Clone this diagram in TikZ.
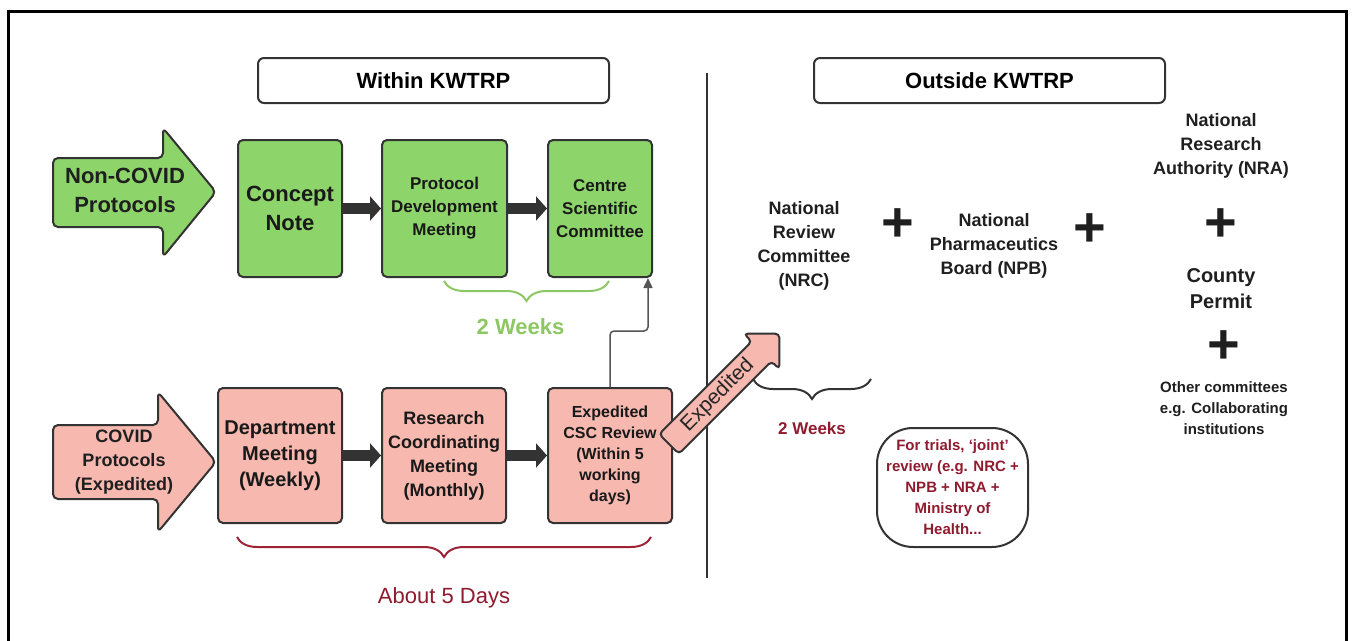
\documentclass[tikz,border=0pt]{standalone}
\usepackage{fontspec}
\setmainfont{Liberation Sans}
\usetikzlibrary{positioning,arrows.meta,calc,decorations.pathreplacing}
\definecolor{leaf300}{HTML}{8DD46A}
\definecolor{leaf400}{HTML}{8CC763}
\definecolor{rose200}{HTML}{F6B8AF}
\definecolor{wine700}{HTML}{8E1B2E}
\definecolor{wine600}{HTML}{9B2335}
\definecolor{ink800} {HTML}{333333}
\definecolor{grey600}{HTML}{555555}
\newcommand{\boxfont}[2]{\fontsize{#1}{#2}\selectfont\bfseries}
\tikzset{
  box/.style     ={draw=ink800, line width=2pt, fill=leaf300,
                   rounded corners=5pt, align=center, inner sep=2pt,
                   text=black!90},
  boxp/.style    ={box, fill=rose200},
  titlebox/.style={draw=ink800, line width=2pt, fill=white,
                   rounded corners=6pt, minimum width=351pt,
                   minimum height=45pt, font=\boxfont{22}{26}},
  blockar/.style ={draw=ink800, line width=2pt, rounded corners=5pt},
  lbl/.style     ={align=center, inner sep=2pt, text=black!88},
  plussign/.style={inner sep=0pt, text=black!88,
                   font=\fontsize{56}{56}\selectfont\bfseries},
  thar/.style    ={-{Triangle[length=11pt,width=24pt]}, draw=ink800,
                   line width=11pt},
  gar/.style     ={-{Triangle[length=10pt,width=9pt]}, draw=grey600,
                   line width=1.5pt, rounded corners=4pt},
  brc/.style     ={decorate, decoration={brace,amplitude=20pt,mirror},
                   line width=2pt}
}
\begin{document}
\begin{tikzpicture}[x=1pt, y=-1pt]
\useasboundingbox (0,0) rectangle (1352,640);
\draw[line width=3pt] (8,11) rectangle (1346,660);

% section headers
\node[titlebox] (win) at (433.5,80.5) {Within KWTRP};
\node[titlebox] (wout) at (989.5,80.5) {Outside KWTRP};
\draw[draw=ink800, line width=2pt] (707,73) -- (707,578);

% non-COVID route
\draw[blockar, fill=leaf300] (53,158) -- (163,158) -- (163,128) -- (216,192)
  -- (163,257) -- (163,227) -- (53,227) -- cycle;
\node[lbl, font=\boxfont{22}{29}] (ncp) at (125,190) {Non-COVID\\Protocols};
\node[box, minimum width=104pt, minimum height=137pt,
      font=\boxfont{22}{29}] (cn) at (290,208.5) {Concept\\Note};
\node[box, minimum width=125pt, minimum height=137pt, right=38pt of cn,
      font=\boxfont{17}{23}] (pdm) {Protocol\\Development\\Meeting};
\node[box, minimum width=104pt, minimum height=137pt, right=39pt of pdm,
      font=\boxfont{17}{23}] (csc) {Centre\\Scientific\\Committee};

% COVID route
\draw[blockar, fill=rose200] (53,425) -- (158,425) -- (158,392) -- (216,462)
  -- (158,532) -- (158,499) -- (53,499) -- cycle;
\node[lbl, font=\boxfont{18}{24}] (cvp) at (124,462)
  {COVID\\Protocols\\(Expedited)};
\node[boxp, minimum width=124pt, minimum height=135pt,
      font=\boxfont{20}{26}] (dm) at (280,455.5) {Department\\Meeting\\(Weekly)};
\node[boxp, minimum width=124pt, minimum height=135pt, right=38pt of dm,
      font=\boxfont{18}{24}] (rcm) {Research\\Coordinating\\Meeting\\(Monthly)};
\node[boxp, minimum width=124pt, minimum height=135pt, right=40pt of rcm,
      font=\boxfont{16}{21}] (exp)
  {Expedited\\CSC Review\\(Within 5\\working\\days)};

\foreach \x/\y in {cn/pdm,pdm/csc,dm/rcm,rcm/exp} \draw[thar] (\x) -- (\y);
\draw[gar] (exp.north) -- ++(0,-56) -| ($(csc.south east)+(-5,0)$);

\begin{scope}[shift={(669,444)}, rotate=45]
  \draw[blockar, fill=rose200, rounded corners=4pt] (0,-14) -- (131,-14)
    -- (131,-25) -- (156,0) -- (131,25) -- (131,14) -- (0,14) -- cycle;
  \node[rotate=45, inner sep=0pt, text=black!85,
        font=\fontsize{21}{21}\selectfont] (xpd) at (69,0) {Expedited};
\end{scope}

% durations
\draw[brc, draw=leaf400] (444,281) -- (609,281)
  node[midway, below=35pt, xshift=-6pt, lbl, text=leaf400,
       font=\boxfont{22}{26}] (gw) {2 Weeks};
\draw[brc, draw=wine600] (237,537) -- (651,537)
  node[midway, below=48pt, lbl, text=wine700,
       font=\fontsize{22}{26}\selectfont] (fd) {About 5 Days};
\draw[brc, draw=ink800] (753,379) -- (871,379)
  node[midway, below=40pt, lbl, text=wine700,
       font=\boxfont{17}{21}] (rw) {2 Weeks};

% outside approvals
\node[lbl, font=\boxfont{18}{24}] (nrc) at (804,246)
  {National\\Review\\Committee\\(NRC)};
\node[plussign] (p1) at (898,225) {+};
\node[lbl, font=\boxfont{18}{24}] (npb) at (994,246)
  {National\\Pharmaceutics\\Board (NPB)};
\node[plussign] (p2) at (1090,230) {+};
\node[lbl, font=\boxfont{18}{24}] (nra) at (1221,146)
  {National\\Research\\Authority (NRA)};
\node[plussign] (p3) at (1221,225) {+};
\node[lbl, font=\boxfont{20}{26}] (cty) at (1221,289) {County\\Permit};
\node[plussign] (p4) at (1224,347) {+};
\node[lbl, font=\boxfont{15}{21}] (oth) at (1224,408)
  {Other committees\\e.g. Collaborating\\institutions};
\node[draw=ink800, line width=2pt, rounded corners=36pt, minimum width=151pt,
      minimum height=119pt, align=center, inner sep=0pt, text=wine700,
      font=\boxfont{15}{21}] (jnt) at (952.5,487.5)
  {For trials, `joint'\\review (e.g. NRC +\\NPB + NRA +\\Ministry of\\Health...};
\end{tikzpicture}
\end{document}
